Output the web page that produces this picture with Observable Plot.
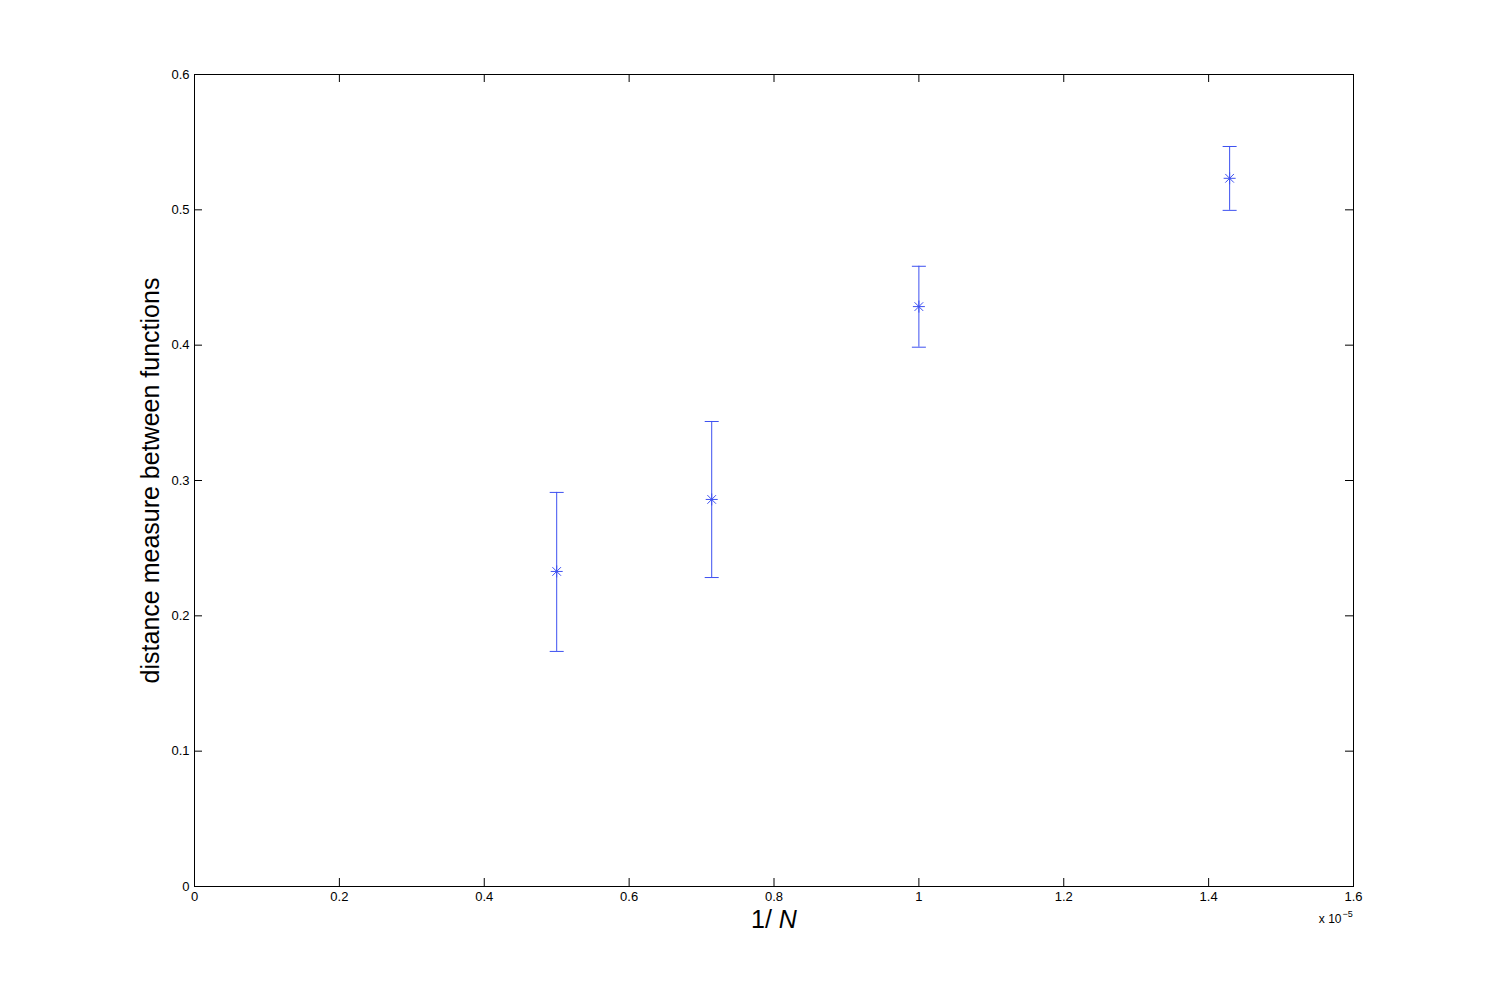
<!DOCTYPE html>
<html>
<head>
<meta charset="utf-8">
<script src="https://cdn.jsdelivr.net/npm/d3@7"></script>
<script src="https://cdn.jsdelivr.net/npm/@observablehq/plot@0.6"></script>
<style>
  html, body { margin: 0; padding: 0; background: #fff; }
  svg { font-family: "Liberation Sans", Arial, Helvetica, sans-serif; }
</style>
</head>
<body>
<div id="chart"></div>
<script>
// Data (x in units of 1e-5)
const invN = [0.5, 0.714, 1.0, 1.429];
const distance = [0.2328, 0.2860, 0.4285, 0.5233];
const upper = [0.2912, 0.3436, 0.4583, 0.5468];
const lower = [0.1737, 0.2283, 0.3985, 0.4996];

const xTicks = [0, 0.2, 0.4, 0.6, 0.8, 1.0, 1.2, 1.4, 1.6];
const yTicks = [0, 0.1, 0.2, 0.3, 0.4, 0.5, 0.6];

const rows = invN.map((x, i) => ({x, y: distance[i], hi: upper[i], lo: lower[i]}));

const W = 1495, H = 997;
const mL = 194, mR = 142, mT = 74, mB = 111;
const frameW = W - mL - mR, frameH = H - mT - mB;
const tickLen = 8;
const blue = "#3d50f0";

// MATLAB-style '*' marker: + and x combined
const starSymbol = {
  draw(ctx, size) {
    const r = Math.sqrt(size / Math.PI);
    const d = r * 0.72;
    ctx.moveTo(-r, 0); ctx.lineTo(r, 0);
    ctx.moveTo(0, -r); ctx.lineTo(0, r);
    ctx.moveTo(-d, -d); ctx.lineTo(d, d);
    ctx.moveTo(-d, d); ctx.lineTo(d, -d);
  }
};
// horizontal cap symbol
const capSymbol = {
  draw(ctx, size) {
    const r = Math.sqrt(size / Math.PI);
    ctx.moveTo(-r, 0); ctx.lineTo(r, 0);
  }
};

const chart = Plot.plot({
  width: W,
  height: H,
  marginLeft: mL,
  marginRight: mR,
  marginTop: mT,
  marginBottom: mB,
  style: {fontFamily: "'Liberation Sans', Arial, Helvetica, sans-serif", fontSize: "13px", color: "#000", background: "#fff"},
  x: {domain: [0, 1.6]},
  y: {domain: [0, 0.6]},
  marks: [
    // inward ticks on all four sides
    Plot.tickX(xTicks, {x: d => d, insetTop: frameH - tickLen, stroke: "#000"}),
    Plot.tickX(xTicks, {x: d => d, insetBottom: frameH - tickLen, stroke: "#000"}),
    Plot.tickY(yTicks, {y: d => d, insetRight: frameW - tickLen, stroke: "#000"}),
    Plot.tickY(yTicks, {y: d => d, insetLeft: frameW - tickLen, stroke: "#000"}),
    Plot.axisX({ticks: xTicks, tickSize: 0, tickPadding: 5, tickFormat: d => String(d), label: null, fontSize: 13}),
    Plot.axisY({ticks: yTicks, tickSize: 0, tickPadding: 5, tickFormat: d => String(d), label: null, fontSize: 13}),
    Plot.frame({stroke: "#000", strokeWidth: 1}),
    // error bars
    Plot.ruleX(rows, {x: "x", y1: "lo", y2: "hi", stroke: blue, strokeWidth: 1}),
    Plot.dot(rows, {x: "x", y: "hi", symbol: capSymbol, r: 7, stroke: blue, strokeWidth: 1}),
    Plot.dot(rows, {x: "x", y: "lo", symbol: capSymbol, r: 7, stroke: blue, strokeWidth: 1}),
    Plot.dot(rows, {x: "x", y: "y", symbol: starSymbol, r: 6, stroke: blue, strokeWidth: 1}),
    // axis labels
    Plot.text(["distance measure between functions"], {frameAnchor: "left", dx: -44, rotate: -90, textAnchor: "middle", fontSize: 25, fill: "#000"}),
    Plot.text(["1/ N"], {frameAnchor: "bottom", dy: 41, textAnchor: "middle", fontSize: 25, fill: "#000"}),
    Plot.text(["x 10"], {frameAnchor: "bottom-right", dx: -12, dy: 36, textAnchor: "end", fontSize: 12, fill: "#000"}),
    Plot.text(["\u22125"], {frameAnchor: "bottom-right", dx: -11, dy: 30, textAnchor: "start", fontSize: 9, fill: "#000"})
  ]
});

// italic N in x label
d3.select(chart).selectAll("text").each(function() {
  const t = d3.select(this);
  if (t.text() === "1/ N") {
    t.text(null);
    t.append("tspan").text("1/ ");
    t.append("tspan").attr("font-style", "italic").text("N");
  }
});

document.getElementById("chart").appendChild(chart);
</script>
</body>
</html>
